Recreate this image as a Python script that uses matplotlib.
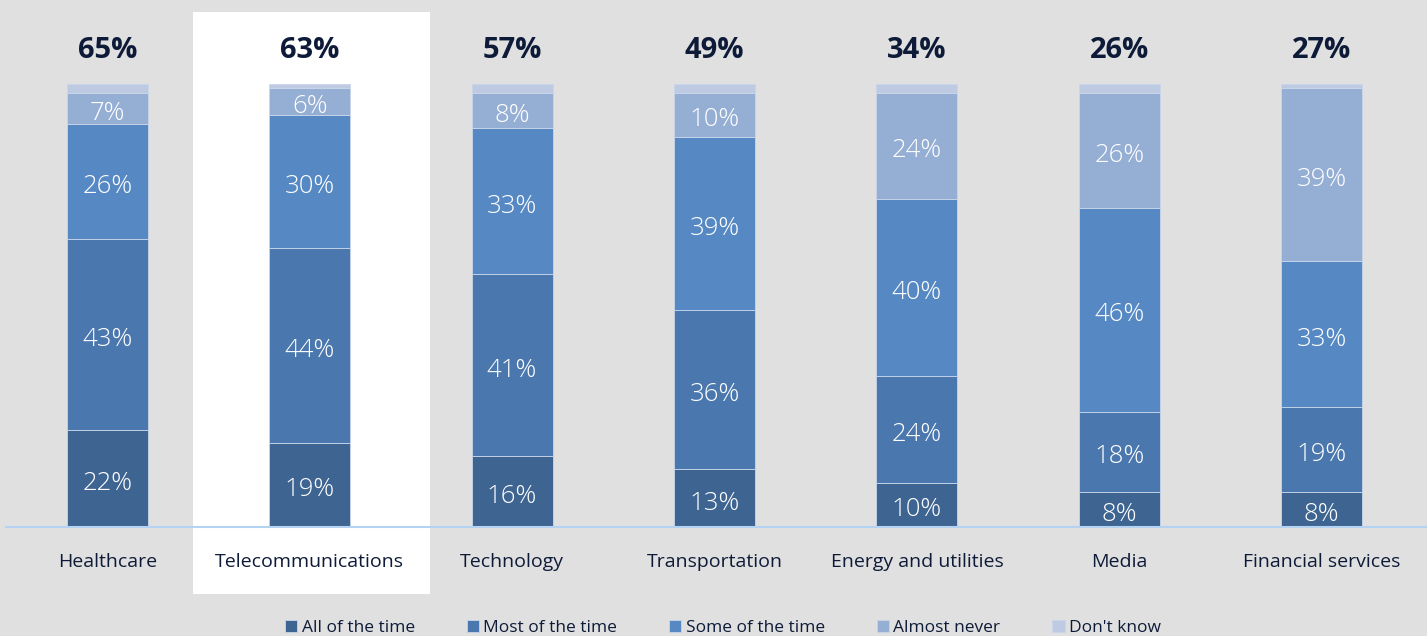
import matplotlib
matplotlib.use("Agg")
import matplotlib.pyplot as plt
from matplotlib.patches import Rectangle
import numpy as np

plt.rcParams['font.family'] = ['Open Sans', 'DejaVu Sans']

categories = ["Healthcare", "Telecommunications", "Technology", "Transportation",
              "Energy and utilities", "Media", "Financial services"]
series_names = ["All of the time", "Most of the time", "Some of the time",
                "Almost never", "Don't know"]
all_time = [22, 19, 16, 13, 10, 8, 8]
most_time = [43, 44, 41, 36, 24, 18, 19]
some_time = [26, 30, 33, 39, 40, 46, 33]
almost_never = [7, 6, 8, 10, 24, 26, 39]

colors = ["#3e6491", "#4a77ad", "#5689c4", "#95aed4", "#bdcae2"]
bg = "#e0e0e0"
text_dark = "#0e1b38"

known = np.array([all_time, most_time, some_time, almost_never], dtype=float)
dont_know = 100 - known.sum(axis=0)
stack = np.vstack([known, dont_know])
top_share = np.array(all_time) + np.array(most_time)

W, H = 1427, 636
fig = plt.figure(figsize=(W / 100, H / 100), dpi=100, facecolor=bg)

# highlight panel behind the Telecommunications column
fig.patches.append(Rectangle((193 / W, (H - 594) / H), 237 / W, 582 / H,
                             transform=fig.transFigure, facecolor="white",
                             edgecolor="none", zorder=0))

ax = fig.add_axes([6 / W, (H - 527) / H, (W - 6) / W, 515 / H])
ax.set_zorder(2)
ax.set_facecolor("none")
x = np.arange(len(categories))
ax.set_xlim(-0.5, 6.52)
ax.set_ylim(0, 100 * 515 / 443)

bottom = np.zeros(len(categories))
for i, (name, vals) in enumerate(zip(series_names, stack)):
    ax.bar(x, vals, width=0.4, bottom=bottom, color=colors[i], label=name,
           edgecolor="#c9d6ea", linewidth=0.6, zorder=2)
    if i < 4:
        for xi, b, v in zip(x, bottom, vals):
            ax.annotate(f"{int(v)}%", (xi, b + v / 2), xytext=(0, -3.5),
                        textcoords="offset points", ha="center", va="center",
                        color="white", fontsize=18.5, fontweight="light",
                        zorder=3)
    bottom += vals

for xi, t in zip(x, top_share):
    ax.annotate(f"{int(t)}%", (xi, 108.1), xytext=(0, -1.5),
                textcoords="offset points", ha="center", va="center",
                color=text_dark, fontsize=21, fontweight="bold",
                annotation_clip=False)

for xi, c in zip(x, categories):
    ax.annotate(c, (xi, 0), xytext=(0, -25), textcoords="offset points",
                ha="center", va="center", color=text_dark, fontsize=14,
                annotation_clip=False)

for s in ["top", "right", "left"]:
    ax.spines[s].set_visible(False)
ax.spines["bottom"].set_color("#b4d2f2")
ax.spines["bottom"].set_linewidth(1.5)
ax.set_xticks([])
ax.set_yticks([])

fig.legend(loc="center", bbox_to_anchor=(723 / W, (H - 628) / H), ncol=5,
           frameon=False, fontsize=12.5, handlelength=0.7, handleheight=0.7,
           handletextpad=0.25, columnspacing=3.0, labelcolor=text_dark)

fig.savefig("out.png", dpi=100, facecolor=bg)
